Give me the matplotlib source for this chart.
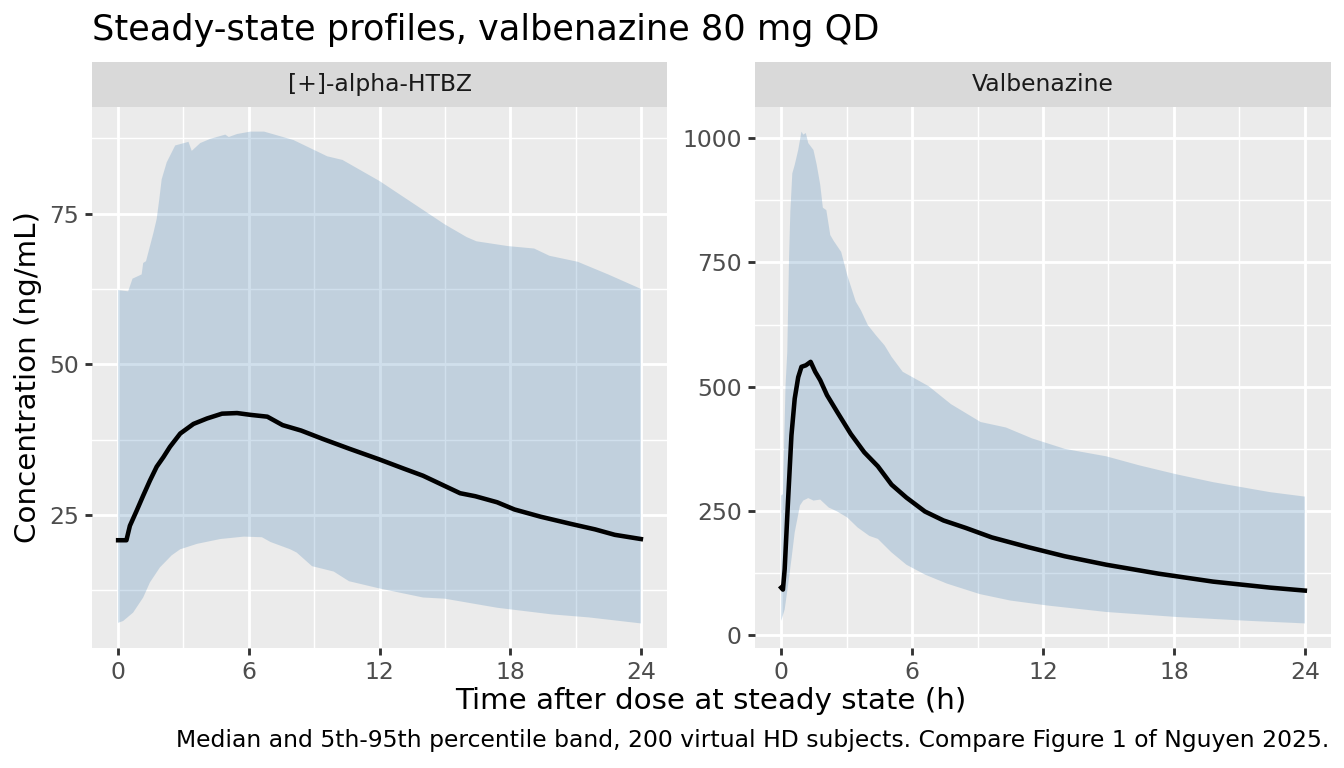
import numpy as np
import matplotlib
matplotlib.use("Agg")
import matplotlib.pyplot as plt

# [+]-alpha-HTBZ
htbz_t_med = [0, 0.38, 0.54, 0.85, 1.15, 1.46, 1.77, 2.08, 2.38, 2.85, 3.46, 4.08, 4.77, 5.46,
              6.08, 6.85, 7.55, 8.4, 9.4, 10.6, 12.0, 13.1, 14.0, 15.7, 16.4, 17.4, 18.2,
              19.4, 20.8, 21.9, 22.8, 24.0]
htbz_med = [20.8, 20.8, 23.2, 25.7, 28.2, 30.7, 33.0, 34.6, 36.3, 38.5, 40.1, 41.0, 41.8, 41.9,
            41.6, 41.3, 39.9, 39.0, 37.6, 36.0, 34.2, 32.7, 31.5, 28.6, 28.1, 27.1, 25.9,
            24.7, 23.5, 22.6, 21.7, 21.0]
htbz_t_hi = [0, 0.46, 0.66, 1.08, 1.15, 1.28, 1.62, 1.77, 1.89, 2.0, 2.23, 2.62, 3.23, 3.38,
             3.77, 4.23, 4.92, 5.08, 5.46, 6.08, 6.7, 8.05, 9.6, 10.3, 12.0, 13.5, 15.0, 16.0,
             16.45, 17.9, 19.1, 19.8, 21.1, 22.5, 24.0]
htbz_hi = [62.3, 62.1, 64.2, 64.9, 66.8, 67.1, 71.8, 74.1, 77.4, 80.7, 83.5, 86.3, 86.9, 85.4,
           86.7, 87.4, 88.1, 87.7, 88.2, 88.6, 88.6, 87.2, 84.5, 83.9, 80.4, 76.8, 73.2, 71.1,
           70.4, 69.6, 69.2, 68.0, 67.0, 64.9, 62.5]
htbz_t_lo = [0, 0.23, 0.69, 1.15, 1.46, 1.92, 2.46, 2.85, 3.62, 4.69, 5.77, 6.6, 7.0, 7.9, 8.2,
             8.9, 9.9, 10.6, 12.0, 14.0, 15.0, 17.4, 19.9, 21.6, 24.0]
htbz_lo = [7.1, 7.4, 8.8, 11.3, 13.8, 16.3, 18.3, 19.3, 20.2, 21.0, 21.4, 21.3, 20.5, 19.3, 18.75,
           16.5, 15.6, 14.0, 12.8, 11.3, 11.1, 9.6, 8.5, 8.0, 7.0]

# Valbenazine
vbz_t_med = [0, 0.08, 0.16, 0.31, 0.47, 0.62, 0.78, 0.93, 1.13, 1.35, 1.56, 1.79, 2.1, 2.57,
             3.19, 3.81, 4.43, 5.06, 5.74, 6.59, 7.44, 8.46, 9.65, 11.35, 13.0, 14.9, 17.3,
             19.8, 22.4, 24.0]
vbz_med = [96, 92, 133, 267, 402, 476, 519, 540, 543, 550, 530, 513, 483, 449,
           405, 368, 340, 303, 277, 249, 231, 216, 197, 177, 159, 142, 124,
           108, 96, 90]
vbz_t_hi = [0, 0.08, 0.2, 0.28, 0.36, 0.42, 0.51, 0.62, 0.78, 0.93, 1.01, 1.13, 1.24, 1.48,
            1.63, 1.79, 1.91, 2.07, 2.25, 2.41, 2.75, 3.03, 3.42, 3.65, 3.97, 4.35, 4.74,
            5.06, 5.57, 6.76, 7.78, 9.14, 10.3, 11.5, 13.0, 14.9, 16.4, 18.1, 19.8, 22.4, 24.0]
vbz_hi = [281, 284, 503, 570, 758, 852, 929, 946, 976, 1013, 1007, 1010, 990, 976,
          946, 906, 860, 855, 805, 793, 771, 724, 671, 654, 624, 603, 583,
          560, 530, 501, 465, 429, 418, 396, 375, 360, 342, 324, 308, 288, 279]
vbz_t_lo = [0, 0.16, 0.31, 0.47, 0.62, 0.86, 1.01, 1.24, 1.48, 1.79, 2.18, 2.57, 3.03, 3.5,
            4.04, 4.43, 5.05, 5.74, 6.6, 7.6, 9.1, 10.5, 12.2, 14.9, 18.1, 21.5, 24.0]
vbz_lo = [29, 52, 99, 153, 207, 261, 271, 276, 271, 273, 257, 249, 237, 217,
          200, 194, 167, 142, 122, 104, 83, 70, 60, 47, 37, 29, 24]

panels = ["[+]-alpha-HTBZ", "Valbenazine"]
x_ticks = [0, 6, 12, 18, 24]
y_ticks = [[25, 50, 75], [0, 250, 500, 750, 1000]]
y_minor = [[12.5, 37.5, 62.5, 87.5], [125, 375, 625, 875]]

W, H = 1344, 768
fig = plt.figure(figsize=(7, 4), dpi=192)


def fx(px):
    return px / W


def fy(py):
    return 1 - py / H


series = [
    (htbz_t_med, htbz_med, htbz_t_hi, htbz_hi, htbz_t_lo, htbz_lo),
    (vbz_t_med, vbz_med, vbz_t_hi, vbz_hi, vbz_t_lo, vbz_lo),
]
lefts = [92, 755]
rights = [667, 1331]
top, bottom, strip_top = 107, 648, 62

for i, (tm, med, th, hi, tl, lo) in enumerate(series):
    ax = fig.add_axes([fx(lefts[i]), fy(bottom), fx(rights[i] - lefts[i]), (bottom - top) / H])
    ax.set_facecolor("#EBEBEB")
    for s in ax.spines.values():
        s.set_visible(False)
    ax.set_axisbelow(True)

    poly_t = np.concatenate([th, tl[::-1]])
    poly_v = np.concatenate([hi, lo[::-1]])
    ax.fill(poly_t, poly_v, color="#4682B4", alpha=0.25, lw=0)
    ax.plot(tm, med, color="black", lw=1.7, solid_joinstyle="round")

    vmin = min(min(hi), min(lo))
    vmax = max(max(hi), max(lo))
    pad = (vmax - vmin) * 0.05
    ax.set_ylim(vmin - pad, vmax + pad)
    ax.set_xlim(-1.2, 25.2)

    ax.set_xticks(x_ticks)
    ax.set_xticks([3, 9, 15, 21], minor=True)
    ax.set_yticks(y_ticks[i])
    ax.set_yticks(y_minor[i], minor=True)
    ax.grid(which="major", color="white", lw=1.07)
    ax.grid(which="minor", color="white", lw=0.53)
    ax.tick_params(which="major", length=2.75, width=1.07, color="#333333",
                   labelsize=8.8, labelcolor="#4D4D4D", pad=2.2)
    ax.tick_params(which="minor", length=0)

    sax = fig.add_axes([fx(lefts[i]), fy(top), fx(rights[i] - lefts[i]), (top - strip_top) / H])
    sax.set_facecolor("#D9D9D9")
    sax.set_xticks([])
    sax.set_yticks([])
    for s in sax.spines.values():
        s.set_visible(False)
    sax.text(0.5, 0.5, panels[i], ha="center", va="center", fontsize=8.8, color="#1A1A1A",
             transform=sax.transAxes)

fig.text(fx(92), fy(40), "Steady-state profiles, valbenazine 80 mg QD", fontsize=13.2,
         ha="left", va="baseline", color="black")
fig.text(fx(711), fy(701), "Time after dose at steady state (h)", fontsize=11,
         ha="center", va="center")
fig.text(fx(28), fy(377), "Concentration (ng/mL)", fontsize=11, rotation=90,
         ha="center", va="center")
fig.text(fx(1329), fy(740),
         "Median and 5th-95th percentile band, 200 virtual HD subjects. Compare Figure 1 of Nguyen 2025.",
         fontsize=8.8, ha="right", va="center")

fig.savefig("out.png", dpi=192)
